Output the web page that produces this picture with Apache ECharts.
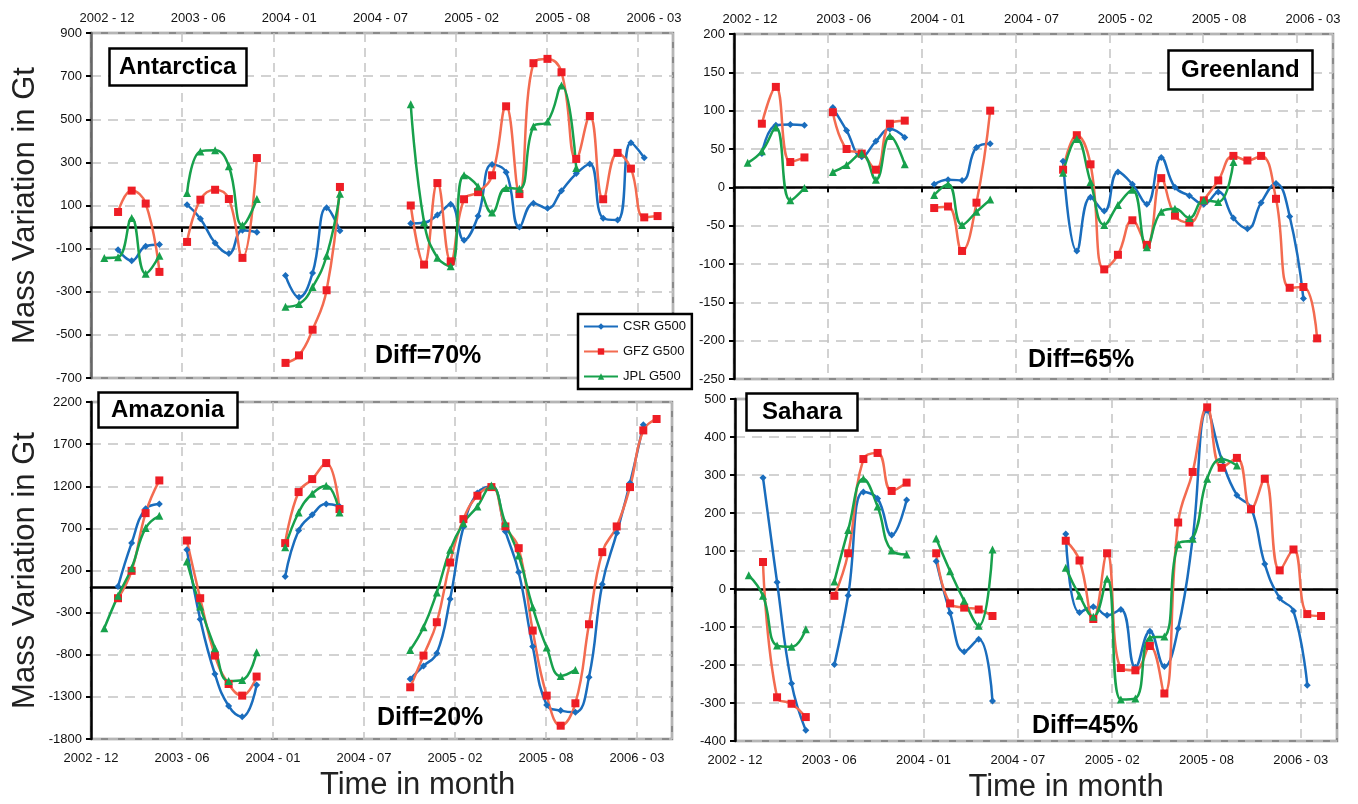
<!DOCTYPE html>
<html>
<head>
<meta charset="utf-8">
<title>Mass variation</title>
<script src="https://cdn.jsdelivr.net/npm/echarts@6/dist/echarts.min.js"></script>
<style>
html, body { margin: 0; padding: 0; background: #fff; }
#main { width: 1358px; height: 804px; }
</style>
</head>
<body>
<div id="main"></div>
<script>
// months since 2002-12 for every solution, 4 runs of data with gaps between
var months = [0.95, 1.93, 2.9, 3.9, 4.88,
    6.85, 7.8, 8.85, 9.83, 10.8, 11.83,
    13.87, 14.83, 15.8, 16.8, 17.75,
    22.8, 23.75, 24.7, 25.65, 26.6, 27.6, 28.6, 29.6, 30.55, 31.55, 32.55, 33.55, 34.6, 35.57, 36.52, 37.55, 38.5, 39.45, 40.4];
var gapBefore = [5, 11, 16];
var xTickLabels = ['2002 - 12', '2003 - 06', '2004 - 01', '2004 - 07', '2005 - 02', '2005 - 08', '2006 - 03'];
var seriesNames = ['CSR G500', 'GFZ G500', 'JPL G500'];

// Antarctica
var antCsr = [null, -105, -156, -89, -81, 104, 39, -74, -123, -15, -24, -225, -326, -213, 89, -17,
    17, 20, 56, 106, -61, 51, 290, 254, 0, 111, 87, 168, 248, 293, 41, 33, 391, 321, null];
var antGfz = [null, 70, 169, 109, -208, -69, 127, 173, 130, -143, 320, -630, -595, -476, -293, 186,
    100, -174, 204, -159, 129, 162, 240, 560, 153, 760, 780, 718, 316, 515, 129, 344, 271, 45, 51];
var antJpl = [-143, -140, 42, -216, -133, 158, 351, 356, 282, 8, 130, -370, -357, -278, -133, 155,
    570, 22, -142, -182, 240, 188, 67, 181, 178, 466, 489, 656, 274, null, null, null, null, null, null];

// Greenland
var greCsr = [null, 44, 81, 82, 81, 104, 74, 40, 60, 76, 65, 4, 10, 9, 52, 57,
    34, -83, -13, -31, 20, 4, -22, 39, 0, -11, -22, -6, -40, -54, -20, 5, -38, -145, null];
var greGfz = [null, 83, 131, 33, 39, 98, 50, 44, 23, 83, 87, -27, -25, -83, -20, 100,
    23, 68, 30, -107, -88, -43, -75, 12, -37, -46, -17, 9, 41, 35, 41, -15, -131, -130, -197];
var greJpl = [32, 47, 78, -17, -1, 20, 29, 44, 10, 67, 30, -10, 4, -49, -32, -16,
    19, 63, 7, -49, -23, -3, -78, -32, -28, -40, -17, -19, 33, null, null, null, null, null, null];

// Amazonia
var amaCsr = [null, 10, 525, 933, 988, 446, -378, -1028, -1408, -1535, -1158, 129, 675, 861, 988, 960,
    -1087, -933, -782, -137, 715, 1119, 1198, 663, 180, -703, -1396, -1463, -1483, -1067, 38, 644, 1238, 1931, null];
var amaGfz = [null, -129, 196, 881, 1269, 556, -129, -810, -1147, -1285, -1059, 525, 1131, 1285, 1475, 929,
    -1186, -810, -414, 295, 810, 1087, 1190, 723, 465, -513, -1285, -1642, -1376, -438, 418, 723, 1190, 1863, 1998];
var amaJpl = [-485, -101, 228, 703, 850, 307, -228, -723, -1111, -1099, -770, 477, 889, 1111, 1206, 889,
    -743, -473, -61, 446, 762, 960, 1210, 762, 378, -236, -715, -1052, -980, null, null, null, null, null, null];

// Sahara
var sahCsr = [null, 293, 18, -249, -372, -199, -17, 255, 238, 142, 234, 73, -63, -165, -132, -295,
    145, -62, -47, -69, -54, -206, -111, -204, -104, 133, 470, 341, 247, 214, 66, -24, -58, -253, null];
var sahGfz = [null, 71, -285, -302, -337, -18, 94, 342, 358, 258, 280, 94, -38, -49, -54, -71,
    127, 75, -79, 94, -208, -214, -150, -275, 175, 308, 478, 319, 345, 210, 290, 49, 104, -66, -71];
var sahJpl = [36, -18, -149, -152, -106, 20, 155, 290, 217, 101, 91, 133, 47, -31, -97, 104,
    56, -18, -73, 27, -291, -288, -128, -125, 118, 132, 290, 342, 325, null, null, null, null, null, null];

var tickStep = 6.5;
var xMax = 41.5;
var fontName = 'Liberation Sans';

var panels = [
    { name: 'Antarctica', diff: 'Diff=70%', rect: [91, 33, 582, 345], min: -700, max: 900, step: 200, top: true, yName: true,
      box: [109, 48], boxPad: [7, 10], diffPos: [375, 344], values: [antCsr, antGfz, antJpl], yColor: '#666' },
    { name: 'Greenland', diff: 'Diff=65%', rect: [734, 34, 599, 345], min: -250, max: 200, step: 50, top: true, yName: false,
      box: [1168, 50], boxPad: [8, 13], diffPos: [1028, 348], values: [greCsr, greGfz, greJpl], yColor: '#000' },
    { name: 'Amazonia', diff: 'Diff=20%', rect: [91, 402, 581, 337], min: -1800, max: 2200, step: 500, top: false, yName: true,
      box: [98, 392], boxPad: [6, 13], diffPos: [377, 706], values: [amaCsr, amaGfz, amaJpl], yColor: '#000', xNamePad: 72 },
    { name: 'Sahara', diff: 'Diff=45%', rect: [735, 399, 602, 344], min: -400, max: 500, step: 100, top: false, yName: false,
      box: [746, 393], boxPad: [7, 16], diffPos: [1032, 714], values: [sahCsr, sahGfz, sahJpl], yColor: '#000', xNamePad: 60 }
];

var styles = [
    { symbol: 'diamond', size: 7, line: '#1a6dbd', mark: '#1a6dbd' },
    { symbol: 'rect', size: 8, line: '#f36b50', mark: '#ee1d25' },
    { symbol: 'triangle', size: 8, line: '#17a14c', mark: '#17a14c' }
];

// 把数值和月份拼成点，段与段之间插入空值断开
function toPoints(values) {
    var pts = [];
    for (var i = 0; i < months.length; i++) {
        if (gapBefore.indexOf(i) >= 0) {
            pts.push([months[i] - 1, '-']);
        }
        pts.push([months[i], values[i] == null ? '-' : values[i]]);
    }
    return pts;
}

function tickLabel(v) {
    var i = Math.round(v / tickStep);
    return Math.abs(v - i * tickStep) < 0.01 ? (xTickLabels[i] || '') : '';
}

var myChart = echarts.init(document.getElementById('main'));

var grids = [], xAxes = [], yAxes = [], series = [], titles = [];

panels.forEach(function (p, g) {
    grids.push({
        left: p.rect[0], top: p.rect[1], width: p.rect[2], height: p.rect[3],
        show: true, borderColor: '#8a8a8a', borderWidth: 2.5, backgroundColor: 'transparent'
    });

    // axis that carries the month labels and the vertical grid lines
    xAxes.push({
        type: 'value', gridIndex: g, min: 0, max: xMax, interval: tickStep,
        position: p.top ? 'top' : 'bottom',
        axisLine: { show: false, onZero: false },
        axisTick: { show: false },
        axisLabel: {
            formatter: tickLabel, fontSize: 13, color: '#111', fontFamily: fontName,
            margin: p.top ? 8 : 13, padding: p.top ? [0, 0, 0, 32] : 0
        },
        splitLine: { show: true, lineStyle: { color: '#c4c4c4', width: 1.5, type: [9, 6] } },
        name: p.top ? '' : 'Time in month',
        nameLocation: 'middle', nameGap: 31,
        nameTextStyle: { fontSize: 31, color: '#222', fontFamily: fontName, padding: [0, 0, 0, p.xNamePad || 0] }
    });
    // zero line with its tick marks
    xAxes.push({
        type: 'value', gridIndex: g, min: 0, max: xMax, interval: tickStep,
        position: 'bottom',
        axisLine: { show: true, onZero: true, lineStyle: { color: '#000', width: 2.5 } },
        axisTick: { show: true, length: 5, lineStyle: { color: '#000', width: 2 } },
        axisLabel: { show: false },
        splitLine: { show: false }
    });

    yAxes.push({
        type: 'value', gridIndex: g, min: p.min, max: p.max, interval: p.step,
        axisLine: { show: true, onZero: false, lineStyle: { color: p.yColor, width: 2.5 } },
        axisTick: { show: true, length: 5, lineStyle: { color: '#000', width: 2 } },
        axisLabel: {
            fontSize: 13, color: '#111', fontFamily: fontName, margin: 9,
            formatter: function (v) { return String(v); }
        },
        splitLine: { show: true, lineStyle: { color: '#c4c4c4', width: 1.5, type: [10, 7] } },
        name: p.yName ? 'Mass Variation in Gt' : '',
        nameLocation: 'middle', nameGap: 50,
        nameTextStyle: { fontSize: 31, color: '#222', fontFamily: fontName }
    });

    p.values.forEach(function (vals, k) {
        var s = styles[k];
        series.push({
            name: seriesNames[k],
            type: 'line',
            xAxisIndex: 2 * g,
            yAxisIndex: g,
            data: toPoints(vals),
            smooth: 0.45,
            connectNulls: false,
            symbol: s.symbol,
            symbolSize: s.size,
            showSymbol: true,
            lineStyle: { color: s.line, width: 2.5 },
            itemStyle: { color: s.mark },
            emphasis: { disabled: true },
            animation: false
        });
    });

    titles.push({
        text: p.name, left: p.box[0], top: p.box[1],
        borderColor: '#000', borderWidth: 2.5, backgroundColor: '#fff',
        padding: p.boxPad,
        textStyle: { fontSize: 24, fontWeight: 'bold', color: '#000', fontFamily: fontName, lineHeight: 24 }
    });
    titles.push({
        text: p.diff, left: p.diffPos[0], top: p.diffPos[1], padding: 0,
        textStyle: { fontSize: 25, fontWeight: 'bold', color: '#000', fontFamily: fontName }
    });
});

var option = {
    backgroundColor: '#fff',
    animation: false,
    title: titles,
    legend: {
        data: seriesNames,
        orient: 'vertical',
        left: 578, top: 314,
        itemWidth: 34, itemHeight: 8, itemGap: 12,
        padding: [6, 6, 6, 5],
        borderColor: '#000', borderWidth: 2.5, backgroundColor: '#fff',
        textStyle: { fontSize: 13, color: '#111', fontFamily: fontName }
    },
    grid: grids,
    xAxis: xAxes,
    yAxis: yAxes,
    series: series
};

myChart.setOption(option);
</script>
</body>
</html>
